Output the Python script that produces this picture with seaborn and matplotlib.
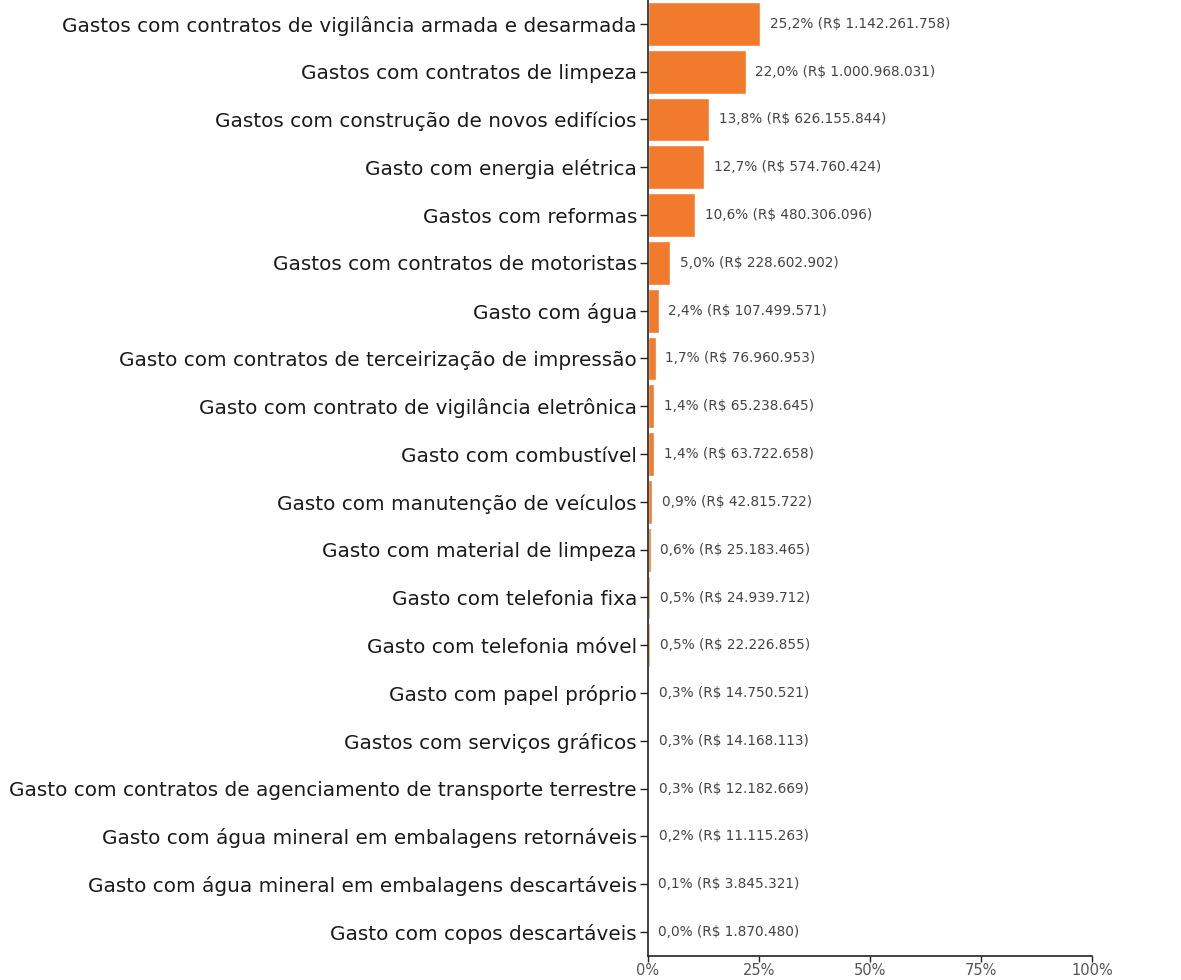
import matplotlib
matplotlib.use("Agg")
import matplotlib.pyplot as plt
import seaborn as sns
import pandas as pd
from matplotlib.ticker import FuncFormatter

categories = [
    "Gastos com contratos de vigilância armada e desarmada",
    "Gastos com contratos de limpeza",
    "Gastos com construção de novos edifícios",
    "Gasto com energia elétrica",
    "Gastos com reformas",
    "Gastos com contratos de motoristas",
    "Gasto com água",
    "Gasto com contratos de terceirização de impressão",
    "Gasto com contrato de vigilância eletrônica",
    "Gasto com combustível",
    "Gasto com manutenção de veículos",
    "Gasto com material de limpeza",
    "Gasto com telefonia fixa",
    "Gasto com telefonia móvel",
    "Gasto com papel próprio",
    "Gastos com serviços gráficos",
    "Gasto com contratos de agenciamento de transporte terrestre",
    "Gasto com água mineral em embalagens retornáveis",
    "Gasto com água mineral em embalagens descartáveis",
    "Gasto com copos descartáveis",
]
percent = [25.2, 22.0, 13.8, 12.7, 10.6, 5.0, 2.4, 1.7, 1.4, 1.4,
           0.9, 0.6, 0.5, 0.5, 0.3, 0.3, 0.3, 0.2, 0.1, 0.0]
amounts = [1142261758, 1000968031, 626155844, 574760424, 480306096,
           228602902, 107499571, 76960953, 65238645, 63722658,
           42815722, 25183465, 24939712, 22226855, 14750521,
           14168113, 12182669, 11115263, 3845321, 1870480]
x_ticks = [0, 25, 50, 75, 100]

sns.set_theme(style="ticks")
plt.rcParams["font.family"] = ["DejaVu Sans"]

df = pd.DataFrame({"cat": categories, "pct": percent})

fig = plt.figure(figsize=(11.81, 9.80), dpi=100)
ax = fig.add_axes([648 / 1181, 24 / 980, 444 / 1181, 956 / 980])

sns.barplot(data=df, x="pct", y="cat", orient="h", color="#F27A2C",
            saturation=1, width=0.92, ax=ax)

def br_num(v):
    return f"{v:,}".replace(",", ".")

labels = [f"{p:.1f}%".replace(".", ",") + f" (R$ {br_num(a)})"
          for p, a in zip(percent, amounts)]
ax.bar_label(ax.containers[0], labels=labels, padding=7,
             fontsize=9.8, color="#444444")

ax.set_xlim(0, 100)
ax.set_ylim(len(categories) - 0.5, -0.5)
ax.set_xticks(x_ticks)
ax.xaxis.set_major_formatter(FuncFormatter(lambda v, _: f"{v:.0f}%"))
ax.set_xlabel("")
ax.set_ylabel("")
sns.despine(ax=ax)
for s in ("left", "bottom"):
    ax.spines[s].set_color("#222222")
    ax.spines[s].set_linewidth(1.2)
ax.tick_params(axis="y", length=6, width=1, color="#222222",
               labelsize=14.4, labelcolor="#1a1a1a", pad=2)
ax.tick_params(axis="x", length=4, width=1, color="#222222",
               labelsize=10.5, labelcolor="#555555", pad=1)

fig.savefig("out.png", dpi=100)
